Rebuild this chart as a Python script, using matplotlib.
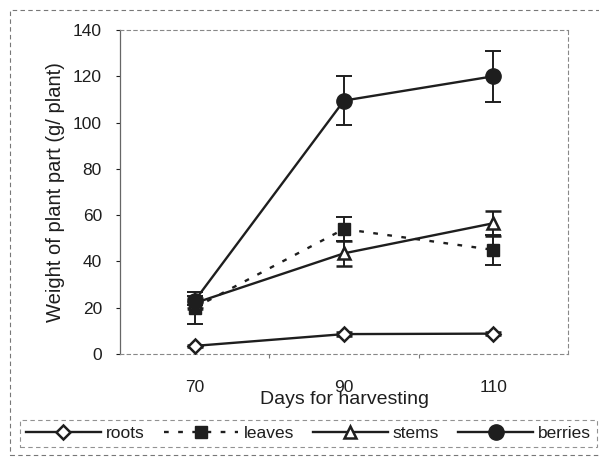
import matplotlib
matplotlib.use("Agg")
import matplotlib.pyplot as plt
from matplotlib.patches import Rectangle
from matplotlib.lines import Line2D

plt.rcParams['font.family'] = ['Liberation Sans', 'DejaVu Sans']

days = [70, 90, 110]
roots = [3.5, 8.6, 8.8]
roots_err = [0.5, 0.8, 0.8]
leaves = [20, 54, 45]
leaves_err = [7, 5, 6.5]
stems = [22, 43.5, 56.5]
stems_err = [2, 5.5, 5.5]
berries = [23, 109.5, 120]
berries_err = [2, 10.5, 11]
yticks = [0, 20, 40, 60, 80, 100, 120, 140]

ink = '#1e1e1e'
W, H = 599, 459
fig = plt.figure(figsize=(W / 100, H / 100), dpi=100)
ax = fig.add_axes([120 / W, 1 - 354 / H, (568 - 120) / W, (354 - 30) / H])

common = dict(color=ink, lw=1.7, elinewidth=1.4, capsize=6, capthick=1.4, ecolor=ink)
ax.errorbar(days, roots, yerr=roots_err, marker='D', ms=7.5, mfc='white', mec=ink, mew=1.8, ls='-', zorder=3, **common)
ax.errorbar(days, stems, yerr=stems_err, marker='^', ms=9, mfc='white', mec=ink, mew=1.8, ls='-', zorder=4, **common)
ax.errorbar(days, leaves, yerr=leaves_err, marker='s', ms=9, mfc=ink, mec=ink, ls=(0, (2, 4)), zorder=3, **common)
ax.errorbar(days, berries, yerr=berries_err, marker='o', ms=11, mfc=ink, mec=ink, ls='-', zorder=5, **common)

ax.set_xlim(60, 120)
ax.set_ylim(0, 140)
ax.set_yticks(yticks)
ax.set_xticks(days)
ax.set_xticks([80, 100], minor=True)
ax.tick_params(axis='x', which='major', length=0, pad=19, labelsize=12.5, colors=ink)
ax.tick_params(axis='x', which='minor', length=3, width=0.8, color='#777777', direction='out')
ax.tick_params(axis='y', which='major', length=3, width=0.8, pad=10, labelsize=12.5, colors=ink)

ax.spines['left'].set_color('#666666')
ax.spines['left'].set_linewidth(0.9)
for s in ['bottom', 'top', 'right']:
    ax.spines[s].set_linestyle((0, (3, 3)))
    ax.spines[s].set_color('#888888')
    ax.spines[s].set_linewidth(0.8)

ax.set_xlabel('Days for harvesting', fontsize=14, color=ink, labelpad=-3)
ax.set_ylabel('Weight of plant part (g/ plant)', fontsize=14.5, color=ink, labelpad=6)

# outer chart border (dashed)
fig.add_artist(Rectangle((10 / W, 1 - 455 / H), 700 / W, 445 / H, transform=fig.transFigure,
                         fill=False, ec='#777777', lw=0.8, ls=(0, (4, 3))))

handles = [
    Line2D([], [], color=ink, lw=1.7, marker='D', ms=7.5, mfc='white', mec=ink, mew=1.8),
    Line2D([], [], color=ink, lw=1.7, ls=(0, (2, 4)), marker='s', ms=9, mfc=ink, mec=ink),
    Line2D([], [], color=ink, lw=1.7, marker='^', ms=9, mfc='white', mec=ink, mew=1.8),
    Line2D([], [], color=ink, lw=1.7, marker='o', ms=11, mfc=ink, mec=ink),
]
leg = fig.legend(handles, ['roots', 'leaves', 'stems', 'berries'], ncol=4,
                 loc='upper left', bbox_to_anchor=(20 / W, 1 - 420 / H),
                 fontsize=12.5, handlelength=4.3, columnspacing=1.1, handletextpad=0.3,
                 borderpad=0.35, borderaxespad=0, fancybox=False, frameon=True)
fr = leg.get_frame()
fr.set_edgecolor('#777777')
fr.set_linestyle((0, (4, 3)))
fr.set_linewidth(0.8)
for t in leg.get_texts():
    t.set_color(ink)

fig.savefig('out.png', dpi=100)
